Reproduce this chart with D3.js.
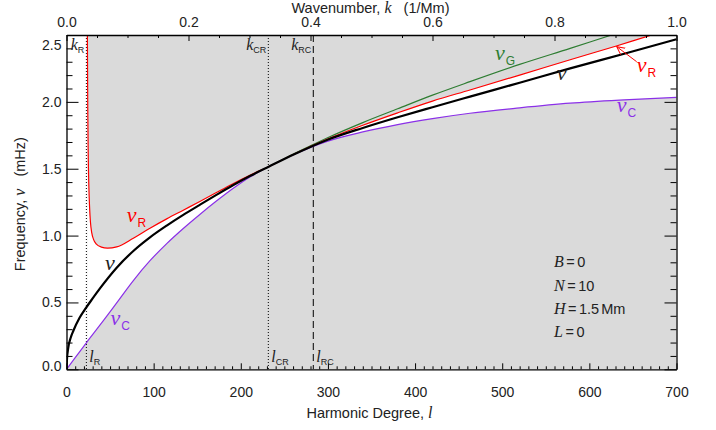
<!DOCTYPE html>
<html><head><meta charset="utf-8">
<script src="https://cdn.jsdelivr.net/npm/d3@7"></script>
<style>
body{margin:0;background:#fff;}
svg text{font-family:"Liberation Sans",Arial,sans-serif;fill:#222;}
</style></head>
<body><svg id="c" width="716" height="430"></svg>
<script>
// ---------- data ----------
const lTicks = [0,100,200,300,400,500,600,700];
const kTicks = [0,0.2,0.4,0.6,0.8,1.0];
const nuTicks = [0,0.5,1.0,1.5,2.0,2.5];

// nu : solution (black)
const nuMain = [[0,0],[0.5,0.07],[2,0.16],[5,0.24],[8,0.29],[15,0.385],[22.4,0.46],[30,0.53],[38.4,0.605],
  [57.6,0.76],[76.7,0.885],[95.8,0.987],[115,1.075],[134,1.155],[153,1.23],[172,1.304],[191,1.376],[211,1.447],
  [232,1.515],[262,1.61],[299,1.715],[340,1.805],[380,1.885],[420,1.96],[463,2.039],[520,2.143],[578,2.25],[640,2.36],[700,2.468]];
// nu_R (red)
const nuR = [[23.9,2.62],[24.1,2.3],[24.4,1.95],[24.9,1.62],[25.6,1.38],[26.5,1.21],[27.5,1.1],[29,1.02],[31,0.972],
  [34,0.938],[40,0.914],[47,0.906],[57.6,0.915],[76.7,0.98],[95.8,1.055],[115,1.125],[134,1.19],[153,1.255],[172,1.322],
  [191,1.388],[211,1.453],[232,1.515],[262,1.612],[299,1.72],[340,1.825],[380,1.918],[420,2.006],[463,2.089],[520,2.2],
  [578,2.315],[631,2.418],[671.6,2.5],[700,2.555]];
// nu_C (purple)
const nuC = [[0,0],[10,0.087],[23,0.2],[46,0.395],[57.6,0.497],[76.7,0.664],[95.8,0.812],[115,0.94],[134,1.053],
  [153,1.158],[172,1.258],[191,1.352],[211,1.44],[232,1.515],[262,1.61],[299,1.705],[340,1.775],[380,1.83],[420,1.875],
  [463,1.915],[520,1.955],[578,1.99],[640,2.015],[700,2.034]];
// nu_G (green)
const nuG = [[232,1.515],[262,1.615],[299,1.73],[340,1.845],[380,1.948],[420,2.05],[463,2.151],[520,2.28],[578,2.4],[625.6,2.5],[640,2.53]];

// critical degrees
const lR = 22.8, lCR = 231.6, lRC = 283.2;
const paramNames = ["B","N","H","L"];
const paramVals = ["0","10","1.5","0"];
const paramUnits = ["","","Mm",""];

// ---------- layout ----------
const L = 66.5, R = 676.5, T = 35, B = 369.3;
const svg = d3.select("#c");
const x = d3.scaleLinear().domain([0,700]).range([L,R]);
const xk = d3.scaleLinear().domain([0,1]).range([L,R]);
const y = d3.scaleLinear().domain([0,2.5]).range([B,T]);
const GRAY = "#dadada", RED = "#ff0000", GREEN = "#2e7d32", PURPLE = "#8b30e8";

const defs = svg.append("defs");
defs.append("clipPath").attr("id","plotclip").append("rect")
  .attr("x",L).attr("y",T).attr("width",R-L).attr("height",B-T);
const aboveC = d3.area().x(d=>x(d[0])).y0(d=>y(d[1])).y1(T-10).curve(d3.curveMonotoneX);
defs.append("clipPath").attr("id","abovec").append("path").attr("d",aboveC(nuC));
const mk = defs.append("marker").attr("id","arr").attr("markerUnits","userSpaceOnUse")
  .attr("markerWidth",10).attr("markerHeight",10).attr("refX",8).attr("refY",4).attr("orient","auto");
mk.append("path").attr("d","M0,0 L8,4 L0,8").attr("fill","none").attr("stroke",RED).attr("stroke-width",1);

const plot = svg.append("g").attr("clip-path","url(#plotclip)");
plot.append("rect").attr("x",L).attr("y",T).attr("width",R-L).attr("height",B-T).attr("fill",GRAY);
const white = plot.append("g").attr("clip-path","url(#abovec)");
white.append("rect").attr("x",x(0)).attr("y",T).attr("width",x(nuR[0][0])-x(0)).attr("height",B-T).attr("fill","#fff");
const belowR = d3.area().x(d=>x(d[0])).y0(B+5).y1(d=>y(d[1])).curve(d3.curveMonotoneX);
white.append("path").attr("d",belowR(nuR)).attr("fill","#fff");

// vertical markers
function vline(l,dash){
  plot.append("line").attr("x1",x(l)).attr("x2",x(l)).attr("y1",T).attr("y2",B)
    .attr("stroke","#000").attr("stroke-width",1).attr("stroke-dasharray",dash);
}
vline(lR,"1,2"); vline(lCR,"1,2"); vline(lRC,"7,4");

const line = d3.line().x(d=>x(d[0])).y(d=>y(d[1])).curve(d3.curveMonotoneX);
plot.append("path").attr("d",line(nuG)).attr("fill","none").attr("stroke",GREEN).attr("stroke-width",1.2);
plot.append("path").attr("d",line(nuR)).attr("fill","none").attr("stroke",RED).attr("stroke-width",1.2);
plot.append("path").attr("d",line(nuC)).attr("fill","none").attr("stroke",PURPLE).attr("stroke-width",1.2);
plot.append("path").attr("d",line(nuMain)).attr("fill","none").attr("stroke","#000").attr("stroke-width",2.2);

// ---------- axes ----------
function styleAxis(g){
  g.attr("font-size",null).attr("font-family",null);
  g.selectAll(".domain").attr("stroke","#000").attr("stroke-width",1.3);
  g.selectAll(".tick line").attr("stroke","#000").attr("stroke-width",1);
  g.selectAll("text").attr("font-size","14px").style("fill","#222");
}
const lMinor = d3.range(0,701,10).filter(v=>v%100!==0);
const kMinor = d3.range(0,1.001,0.05).filter(v=>Math.abs(v*5-Math.round(v*5))>1e-6);
const nuMinor = d3.range(0,2.501,0.1).filter(v=>Math.abs(v*2-Math.round(v*2))>1e-6);

svg.append("g").attr("transform",`translate(0,${B})`)
  .call(d3.axisBottom(x).tickValues(lMinor).tickSize(-3).tickSizeOuter(0).tickFormat(""))
  .call(g=>{styleAxis(g);g.select(".domain").remove();});
svg.append("g").attr("transform",`translate(0,${B})`)
  .call(d3.axisBottom(x).tickValues(lTicks).tickSize(-6).tickSizeOuter(0).tickPadding(17.5).tickFormat(d3.format("d")))
  .call(styleAxis);
svg.append("g").attr("transform",`translate(0,${T})`)
  .call(d3.axisTop(xk).tickValues(kMinor).tickSize(-3).tickSizeOuter(0).tickFormat(""))
  .call(g=>{styleAxis(g);g.select(".domain").remove();});
svg.append("g").attr("transform",`translate(0,${T})`)
  .call(d3.axisTop(xk).tickValues(kTicks).tickSize(-6).tickSizeOuter(0).tickPadding(8).tickFormat(d3.format(".1f")))
  .call(styleAxis);
svg.append("g").attr("transform",`translate(${L},0)`)
  .call(d3.axisLeft(y).tickValues(nuMinor).tickSize(-6).tickSizeOuter(0).tickFormat(""))
  .call(g=>{styleAxis(g);g.select(".domain").remove();});
svg.append("g").attr("transform",`translate(${L},0)`)
  .call(d3.axisLeft(y).tickValues(nuTicks).tickSize(-12).tickSizeOuter(0).tickPadding(5).tickFormat(d3.format(".1f")))
  .call(styleAxis)
  .call(g=>{
    g.selectAll(".tick text").filter(d=>d===2.5).attr("dy","1.0em");
    g.selectAll(".tick text").filter(d=>d===0).attr("dy","0.1em");
  });
svg.append("g").attr("transform",`translate(${R},0)`)
  .call(d3.axisRight(y).tickValues(nuMinor).tickSize(-6).tickSizeOuter(0).tickFormat(""))
  .call(g=>{styleAxis(g);g.select(".domain").remove();});
svg.append("g").attr("transform",`translate(${R},0)`)
  .call(d3.axisRight(y).tickValues(nuTicks).tickSize(-12).tickSizeOuter(0).tickFormat(""))
  .call(styleAxis);

// ---------- titles ----------
const SERIF = '"Liberation Serif","Times New Roman",serif';
const xt = svg.append("text").attr("x",(L+R)/2-2).attr("y",418).attr("text-anchor","middle").attr("font-size","14.5px");
xt.append("tspan").text("Harmonic Degree, ");
xt.append("tspan").attr("font-family",SERIF).attr("font-style","italic").attr("font-size","16px").text("l");

const tt = svg.append("text").attr("x",(L+R)/2-1).attr("y",12.5).attr("text-anchor","middle").attr("font-size","14.5px").style("white-space","pre");
tt.append("tspan").text("Wavenumber, ");
tt.append("tspan").attr("font-family",SERIF).attr("font-style","italic").attr("font-size","16px").text("k");
tt.append("tspan").text("   (1/Mm)");

const yt = svg.append("text").attr("transform",`translate(25,${(T+B)/2+2}) rotate(-90)`).attr("text-anchor","middle")
  .attr("font-size","14.5px").style("white-space","pre");
yt.append("tspan").text("Frequency, ");
yt.append("tspan").attr("font-family",SERIF).attr("font-style","italic").attr("font-size","16px").text("ν");
yt.append("tspan").text("   (mHz)");

// ---------- curve labels ----------
function nuLabel(l,nu,sub,color){
  const t = svg.append("text").attr("x",x(l)).attr("y",y(nu)).style("fill",color);
  t.append("tspan").attr("font-family",SERIF).attr("font-style","italic").attr("font-size","22px").style("fill",color).text("ν");
  if(sub) t.append("tspan").attr("dy",5).attr("dx",1).attr("font-size","12px").style("fill",color).text(sub);
}
nuLabel(491.7,2.313,"G",GREEN);
nuLabel(562.5,2.163,"","#222");
nuLabel(631.4,1.924,"C",PURPLE);
nuLabel(654.3,2.226,"R",RED);
nuLabel(69.1,1.104,"R",RED);
nuLabel(44.2,0.743,"","#222");
nuLabel(50.5,0.331,"C",PURPLE);

// arrow to nu_R
svg.append("line").attr("x1",x(654.3)).attr("y1",y(2.30)).attr("x2",x(631.4)).attr("y2",y(2.413))
  .attr("stroke",RED).attr("stroke-width",1).attr("marker-end","url(#arr)");

// ---------- marker labels ----------
function kLabel(l,sub){
  const t = svg.append("text").attr("x",x(l)-2).attr("y",50).attr("text-anchor","end");
  t.append("tspan").attr("font-family",SERIF).attr("font-style","italic").attr("font-size","16px").text("k");
  t.append("tspan").attr("dy",3).attr("font-size","9px").text(sub);
}
function lLabel(l,sub){
  const t = svg.append("text").attr("x",x(l)+3).attr("y",361.5);
  t.append("tspan").attr("font-family",SERIF).attr("font-style","italic").attr("font-size","16px").text("l");
  t.append("tspan").attr("dy",3).attr("font-size","9px").text(sub);
}
kLabel(lR,"R"); kLabel(lCR,"CR"); kLabel(lRC,"RC");
lLabel(lR,"R"); lLabel(lCR,"CR"); lLabel(lRC,"RC");

// ---------- parameter block ----------
paramNames.forEach((n,i)=>{
  const t = svg.append("text").attr("x",554).attr("y",267.3+i*23.35).attr("font-size","14.5px").style("white-space","pre");
  t.append("tspan").attr("font-family",SERIF).attr("font-style","italic").attr("font-size","16px").text(n);
  t.append("tspan").attr("dx",2.5).text("=");
  t.append("tspan").attr("dx",2.5).text(paramVals[i]);
  if(paramUnits[i]) t.append("tspan").attr("dx",2).text(paramUnits[i]);
});
</script>
</body></html>
